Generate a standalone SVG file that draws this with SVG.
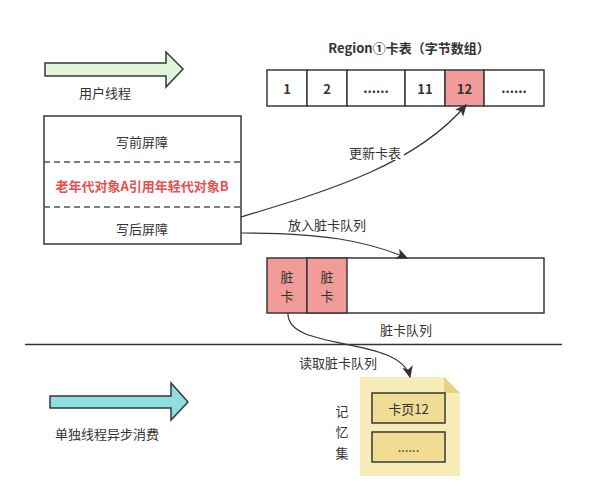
<svg xmlns="http://www.w3.org/2000/svg" width="595" height="502" viewBox="0 0 595 502">
<style>
text{font-family:"Noto Sans CJK SC","Liberation Sans",sans-serif;font-size:13px;fill:#333;text-anchor:middle;dominant-baseline:central}
.b{font-weight:bold}
.box{fill:#fff;stroke:#36393d;stroke-width:1.5}
.red{fill:#f19c99;stroke:#36393d;stroke-width:1.5}
.ln{fill:none;stroke:#333;stroke-width:1.2}
.inner{fill:#f0dc92;stroke:#36393d;stroke-width:1.5}
</style>
<defs>
<marker id="ah" viewBox="0 0 10 10" refX="9" refY="5" markerWidth="12" markerHeight="12" markerUnits="userSpaceOnUse" orient="auto">
<path d="M0,0.5 L10,5 L0,9.5 L2.5,5 Z" fill="#333"/>
</marker>
</defs>
<rect width="595" height="502" fill="#fff"/>
<g id="user-thread">
<path d="M45,63 H166 V52 L183,69 L166,87 V76 H45 Z" fill="#e1f5d8" stroke="#36393d" stroke-width="1.5"/>
<text x="105" y="92">用户线程</text>
</g>
<g id="barrier-box">
<rect x="44" y="116" width="197" height="128" class="box"/>
<line x1="44" y1="162" x2="241" y2="162" stroke="#555" stroke-width="1.5" stroke-dasharray="6,4"/>
<line x1="44" y1="207" x2="241" y2="207" stroke="#555" stroke-width="1.5" stroke-dasharray="6,4"/>
<text x="142" y="141">写前屏障</text>
<text x="142" y="185" class="b" style="fill:#ea4e4e">老年代对象A引用年轻代对象B</text>
<text x="142" y="228">写后屏障</text>
</g>
<g id="card-table">
<text x="409" y="47" class="b">Region①卡表（字节数组）</text>
<rect x="267" y="70" width="40" height="36" class="box"/>
<rect x="307" y="70" width="40" height="36" class="box"/>
<rect x="347" y="70" width="58" height="36" class="box"/>
<rect x="405" y="70" width="40" height="36" class="box"/>
<rect x="445" y="70" width="39" height="36" class="red"/>
<rect x="484" y="70" width="60" height="36" class="box"/>
<text x="287" y="88" class="b">1</text>
<text x="327" y="88" class="b">2</text>
<text x="376" y="87" class="b">......</text>
<text x="425" y="88" class="b">11</text>
<text x="464.5" y="88" class="b">12</text>
<text x="514" y="87" class="b">......</text>
</g>
<g id="dirty-queue">
<rect x="307" y="258" width="237" height="55" class="box"/>
<rect x="267" y="258" width="40" height="55" class="red"/>
<rect x="307" y="258" width="40" height="55" class="red"/>
<text x="287" y="276">脏</text>
<text x="287" y="295">卡</text>
<text x="327" y="276">脏</text>
<text x="327" y="295">卡</text>
<text x="406" y="329">脏卡队列</text>
</g>
<line x1="25" y1="344.5" x2="562" y2="344.5" stroke="#333" stroke-width="1.5"/>
<g id="async-thread">
<path d="M50,396 H171 V383 L188,402 L171,420 V408 H50 Z" fill="#8fdfe0" stroke="#36393d" stroke-width="1.5"/>
<text x="107" y="433">单独线程异步消费</text>
</g>
<g id="remembered-set">
<path d="M360,377 H444 L460,393 V476 H360 Z" fill="#f7ebb8"/>
<path d="M444,377 L460,393 H444 Z" fill="#e8d27e"/>
<rect x="372" y="393" width="73" height="30" class="inner"/>
<rect x="372" y="432" width="73" height="30" class="inner"/>
<text x="408.5" y="408">卡页12</text>
<text x="408.5" y="446">......</text>
<text x="342" y="410">记</text>
<text x="342" y="431">忆</text>
<text x="342" y="452">集</text>
</g>
<g id="connectors">
<path d="M241,217 C330,190 415,165 466,105" class="ln" marker-end="url(#ah)"/>
<path d="M241,233 C320,233 365,240 407,258" class="ln" marker-end="url(#ah)"/>
<path d="M288,313 C286,352 400,335 410,377" class="ln" marker-end="url(#ah)"/>
<rect x="346" y="144" width="58" height="16" fill="#fff"/>
<text x="375" y="152">更新卡表</text>
<text x="327" y="224">放入脏卡队列</text>
<rect x="298" y="354" width="80" height="16" fill="#fff"/>
<text x="338" y="362">读取脏卡队列</text>
</g>
</svg>
